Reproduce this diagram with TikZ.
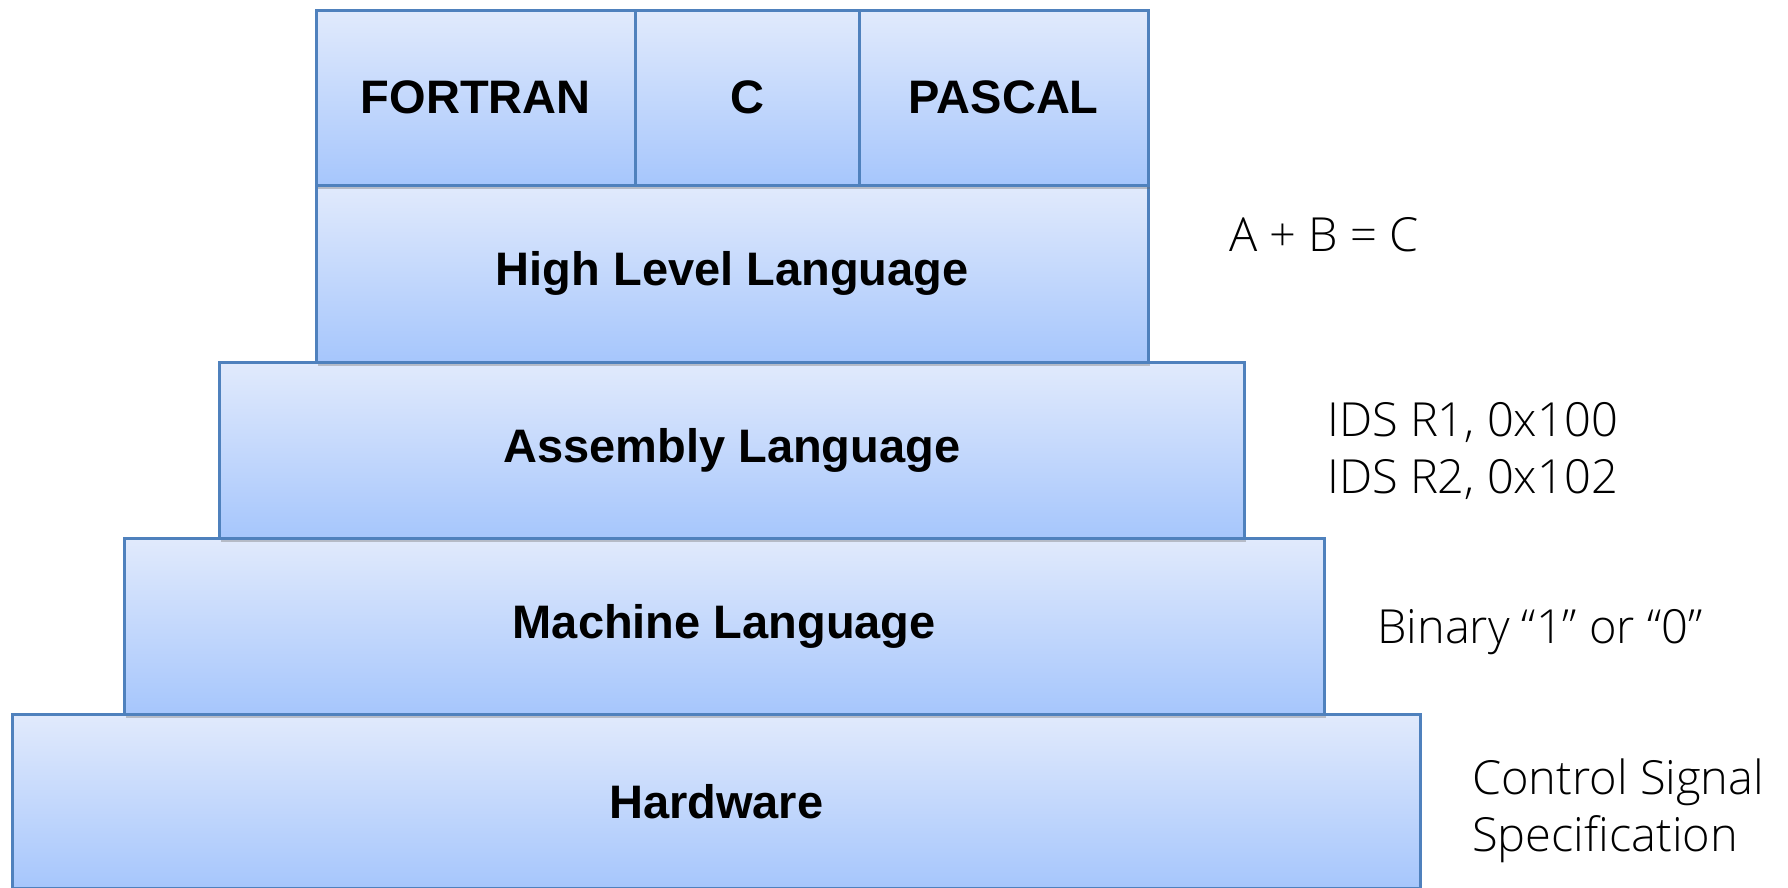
\documentclass[tikz,border=0pt]{standalone}
\usepackage{fontspec}
\setmainfont{Liberation Sans}
\newfontfamily\notefont{Open Sans Light}
\usetikzlibrary{shadows}
\definecolor{edgeblue}{RGB}{79,129,189}
\definecolor{topfill}{RGB}{225,234,252}
\definecolor{botfill}{RGB}{166,198,252}
\tikzset{
  layer/.style={draw=edgeblue, line width=2.6pt, top color=topfill, bottom color=botfill,
    rectangle, inner sep=0pt, anchor=north west,
    font=\fontsize{47}{56}\selectfont\bfseries,
    drop shadow={shadow xshift=2pt, shadow yshift=-4pt, opacity=0.35, fill=black!60}},
  note/.style={inner sep=0pt, align=left, font=\notefont\fontsize{47}{57}\selectfont}
}
\begin{document}
\begin{tikzpicture}[x=1pt,y=-1pt]
\useasboundingbox (0,0) rectangle (1788,888);
\node[layer, minimum width=1408pt, minimum height=174pt] (hw) at (11,713) {Hardware};
\node[layer, minimum width=1200pt, minimum height=176pt] (ml) at (123,537) {Machine Language};
\node[layer, minimum width=1025pt, minimum height=176pt] (al) at (218,361) {Assembly Language};
\node[layer, minimum width=832pt, minimum height=177pt] (hl) at (315,184) {High Level Language};
\node[layer, minimum width=319pt, minimum height=175pt] (ft) at (315,9) {FORTRAN};
\node[layer, minimum width=224pt, minimum height=175pt] (c) at (634,9) {C};
\node[layer, minimum width=289pt, minimum height=175pt] (pc) at (858,9) {PASCAL};
\node[note, anchor=base west] (n1) at (1229,251) {A + B = C};
\node[note, anchor=west] (n2) at (1327,451) {IDS R1, 0x100\\IDS R2, 0x102};
\node[note, anchor=base west] (n3) at (1377,643) {Binary “1” or “0”};
\node[note, anchor=west] (n4) at (1472,811) {Control Signal\\Specification};
\end{tikzpicture}
\end{document}
